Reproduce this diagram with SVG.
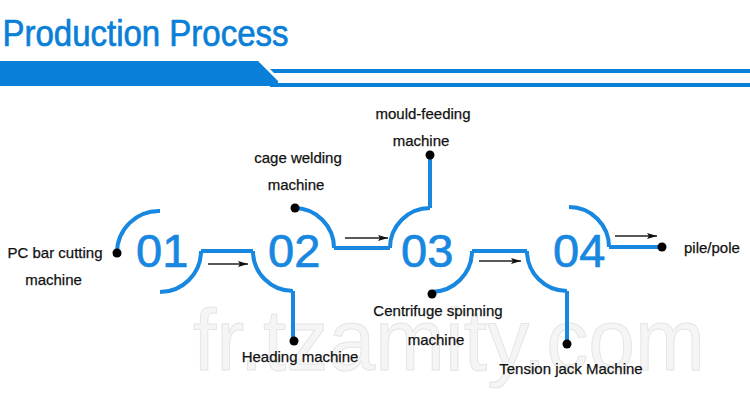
<svg xmlns="http://www.w3.org/2000/svg" width="750" height="401" viewBox="0 0 750 401">
<defs>
<style>
.blue{fill:none;stroke:#1787e0;stroke-width:4}
.lbl{font-family:"Liberation Sans",Arial,sans-serif;font-size:15px;fill:#111;text-anchor:middle;stroke:#111;stroke-width:0.25}
.num{font-family:"Liberation Sans",Arial,sans-serif;font-size:47px;fill:#1787e0;stroke:#1787e0;stroke-width:0.7}
.arr{stroke:#222;stroke-width:1.3;fill:none;marker-end:url(#ah)}
.dot{fill:#000}
</style>
<marker id="ah" viewBox="0 0 10 6" refX="10" refY="3" markerWidth="10" markerHeight="6" markerUnits="userSpaceOnUse" orient="auto">
<path d="M0,0 L10,3 L0,6 L2,3 Z" fill="#111"/>
</marker>
</defs>
<rect width="750" height="401" fill="#fff"/>
<g id="header">
<text x="2.5" y="46" font-family="'Liberation Sans',Arial,sans-serif" font-size="36" fill="#0a7fd7" stroke="#0a7fd7" stroke-width="0.7" textLength="286" lengthAdjust="spacingAndGlyphs">Production Process</text>
<polygon points="0,61 258,61 283,86 0,86" fill="#0a7fd7"/>
<polygon points="270,69 750,69 750,73 274,73" fill="#0a7fd7"/>
<rect x="270" y="83" width="480" height="4" fill="#0a7fd7"/>
<rect x="278" y="73" width="472" height="10" fill="#fbfbfb"/>
</g>
<g id="watermark">
<text x="193" y="370" font-family="'Liberation Sans',Arial,sans-serif" font-size="88" fill="#f5f5f5" stroke="#e5e5e5" stroke-width="1" textLength="512" lengthAdjust="spacingAndGlyphs">fr.tzamity.com</text>
</g>
<g id="connectors">
<path class="blue" d="M201,251 H253"/>
<path class="blue" d="M334,248 H390"/>
<path class="blue" d="M472,251 H527"/>
<path class="blue" d="M293,291 V341"/>
<path class="blue" d="M430,208 V155"/>
<path class="blue" d="M567,291 V344"/>
<path class="blue" d="M609,247 H662"/>
<line class="arr" x1="208" y1="264" x2="248" y2="264"/>
<line class="arr" x1="345" y1="238" x2="388" y2="238"/>
<line class="arr" x1="479" y1="261" x2="521" y2="261"/>
<line class="arr" x1="615" y1="236" x2="657" y2="236"/>
</g>
<g id="node-01">
<path class="blue" d="M117,253 A42,42 0 0 1 160,211"/>
<path class="blue" d="M160,292 A41,41 0 0 0 201,251"/>
<text class="num" x="136" y="267">01</text>
</g>
<g id="node-02">
<path class="blue" d="M253,251 A40,40 0 0 0 293,291"/>
<path class="blue" d="M294,208 A40,40 0 0 1 334,248"/>
<text class="num" x="268" y="267">02</text>
</g>
<g id="node-03">
<path class="blue" d="M390,248 A40,40 0 0 1 430,208"/>
<path class="blue" d="M431,292 A41,41 0 0 0 472,251"/>
<text class="num" x="401" y="267">03</text>
</g>
<g id="node-04">
<path class="blue" d="M527,251 A40,40 0 0 0 567,291"/>
<path class="blue" d="M569,207 A40,40 0 0 1 609,247"/>
<text class="num" x="553" y="267">04</text>
</g>
<g id="pc-bar-cutting">
<circle class="dot" cx="117" cy="253" r="4.5"/>
<text class="lbl" x="55" y="258">PC bar cutting</text>
<text class="lbl" x="53.5" y="285">machine</text>
</g>
<g id="cage-welding">
<circle class="dot" cx="295" cy="208" r="4.5"/>
<text class="lbl" x="298" y="163">cage welding</text>
<text class="lbl" x="296" y="190">machine</text>
</g>
<g id="mould-feeding">
<circle class="dot" cx="430" cy="155" r="4.5"/>
<text class="lbl" x="423" y="119">mould-feeding</text>
<text class="lbl" x="421" y="146">machine</text>
</g>
<g id="heading">
<circle class="dot" cx="294" cy="341" r="4.5"/>
<text class="lbl" x="300" y="362">Heading machine</text>
</g>
<g id="centrifuge">
<circle class="dot" cx="432" cy="294" r="4.5"/>
<text class="lbl" x="438" y="316">Centrifuge spinning</text>
<text class="lbl" x="436" y="345">machine</text>
</g>
<g id="tension-jack">
<circle class="dot" cx="567" cy="344" r="4.5"/>
<text class="lbl" x="571" y="374">Tension jack Machine</text>
</g>
<g id="pile-pole">
<circle class="dot" cx="662" cy="247" r="4.5"/>
<text class="lbl" x="684" y="253" style="text-anchor:start">pile/pole</text>
</g>
</svg>
